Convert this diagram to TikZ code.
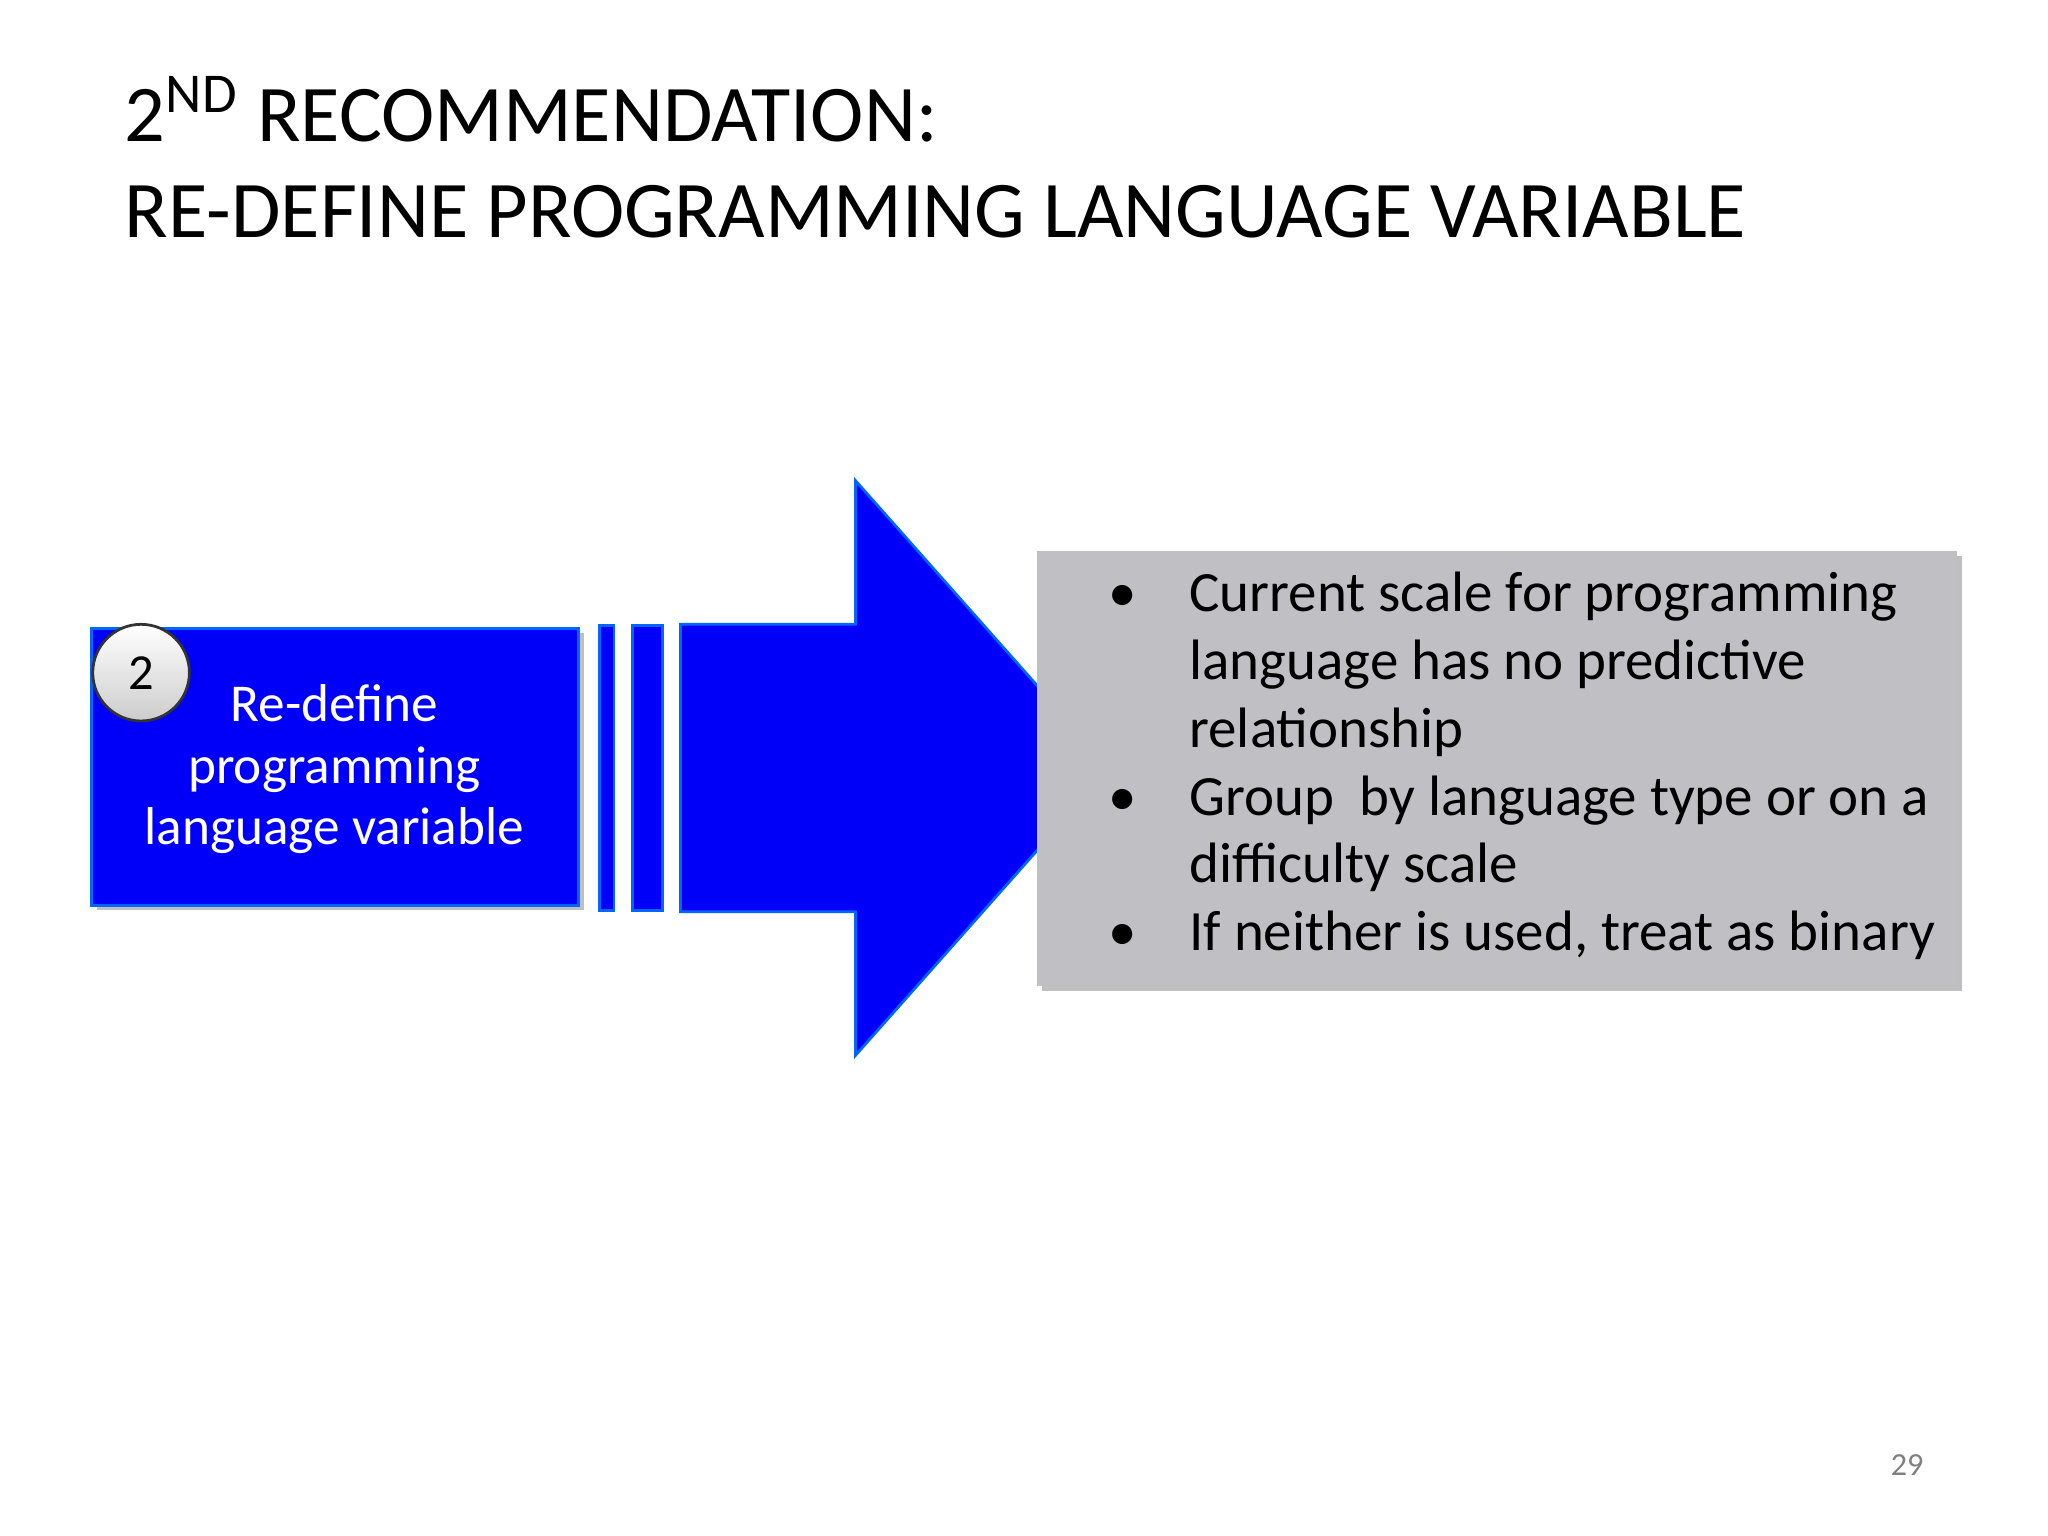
\documentclass[tikz,border=0pt]{standalone}
\usepackage{fontspec}
\setmainfont{Carlito}
\definecolor{myblue}{RGB}{0,0,250}
\definecolor{mygray}{RGB}{192,192,196}
\begin{document}
\begin{tikzpicture}[x=0.01cm,y=-0.01cm,
  bluefill/.style={fill=myblue,draw=blue!60!cyan,line width=0.6pt},
  txt/.style={inner sep=0,anchor=base west}]
\useasboundingbox (0,0) rectangle (1568,1176);
\fill[white] (0,0) rectangle (1568,1176);
\node[txt,font=\fontsize{17.5}{21}\selectfont] (t1) at (95,108) {2\textsuperscript{ND} RECOMMENDATION:};
\node[txt,font=\fontsize{17.5}{21}\selectfont] (t2) at (95,182) {RE-DEFINE PROGRAMMING LANGUAGE VARIABLE};
% shadows
\fill[black!25] (74,485) rectangle (447,697);
\fill[black!25] (798,426) rectangle (1502,759);
% blue box
\node[bluefill,minimum width=373*0.01cm,minimum height=212*0.01cm,inner sep=0] (box) at (256.5,587) {};
\node[text=white,align=center,font=\fontsize{11.6}{13.4}\selectfont] (boxt) at (256,589) {Re-define\\programming\\language variable};
\node[circle,draw=black!80,line width=0.6pt,top color=white,bottom color=black!20,minimum size=74*0.01cm,inner sep=0,font=\fontsize{11}{13}\selectfont] (c) at (108,515) {2};
% bars
\node[bluefill,minimum width=11*0.01cm,minimum height=218*0.01cm,inner sep=0] (b1) at (464.5,588) {};
\node[bluefill,minimum width=23*0.01cm,minimum height=218*0.01cm,inner sep=0] (b2) at (495.5,588) {};
% arrow
\draw[bluefill] (521,478) -- (655,478) -- (655,368) -- (850,588) -- (655,808) -- (655,698) -- (521,698) -- cycle;
% gray box
\node[fill=mygray,minimum width=704*0.01cm,minimum height=333*0.01cm,inner sep=0] (g) at (1146,588.5) {};
\begin{scope}[font=\fontsize{12.4}{14.8}\selectfont]
\node[txt] (d1) at (848,468) {•};
\node[txt] (l1) at (910,468) {Current scale for programming};
\node[txt] (l2) at (910,520) {language has no predictive};
\node[txt] (l3) at (910,572) {relationship};
\node[txt] (d2) at (848,624) {•};
\node[txt] (l4) at (910,624) {Group\ \ by language type or on a};
\node[txt] (l5) at (910,676) {difficulty scale};
\node[txt] (d3) at (848,728) {•};
\node[txt] (l6) at (910,728) {If neither is used, treat as binary};
\end{scope}
\node[txt,text=black!50,font=\fontsize{7}{8}\selectfont] (pn) at (1447,1130) {29};
\end{tikzpicture}
\end{document}
